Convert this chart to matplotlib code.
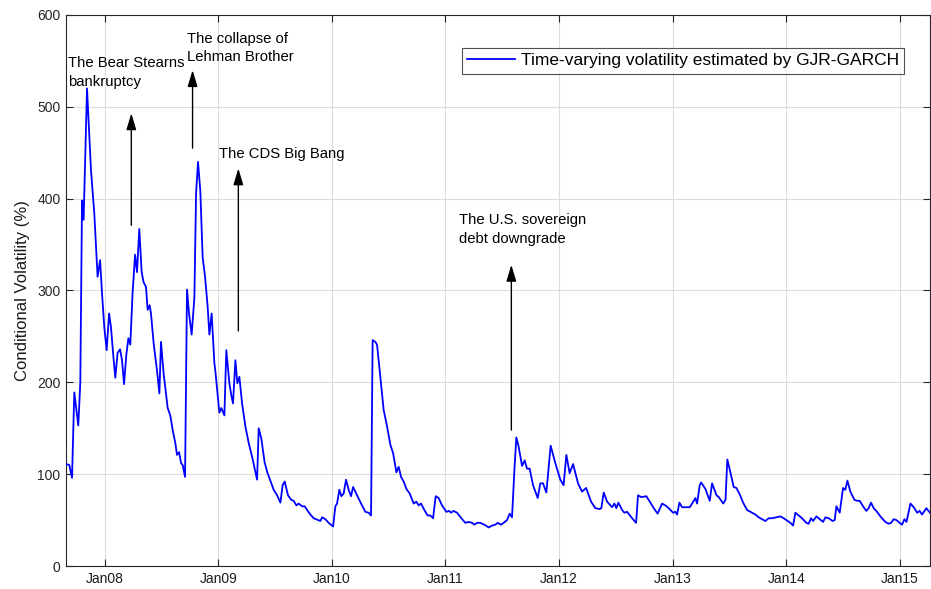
import matplotlib
matplotlib.use("Agg")
import matplotlib.pyplot as plt

plt.rcParams['font.family'] = ['Liberation Sans', 'DejaVu Sans']

# Time axis in decimal years, conditional volatility in percent
t_year = [
    2007.660, 2007.689, 2007.713, 2007.733, 2007.768, 2007.786, 2007.801, 2007.815,
    2007.845, 2007.880, 2007.909, 2007.938, 2007.960, 2007.977, 2007.997, 2008.018,
    2008.039, 2008.056, 2008.077, 2008.094, 2008.114, 2008.136, 2008.153, 2008.171,
    2008.191, 2008.209, 2008.226, 2008.246, 2008.268, 2008.285, 2008.305, 2008.326,
    2008.343, 2008.364, 2008.379, 2008.396, 2008.408, 2008.431, 2008.461, 2008.482,
    2008.496, 2008.519, 2008.555, 2008.578, 2008.599, 2008.622, 2008.637, 2008.655,
    2008.673, 2008.687, 2008.708, 2008.725, 2008.743, 2008.766, 2008.790, 2008.805,
    2008.822, 2008.842, 2008.863, 2008.884, 2008.907, 2008.922, 2008.942, 2008.966,
    2008.974, 2009.010, 2009.027, 2009.054, 2009.071, 2009.098, 2009.115, 2009.130,
    2009.151, 2009.168, 2009.186, 2009.210, 2009.239, 2009.268, 2009.298, 2009.342,
    2009.356, 2009.379, 2009.408, 2009.432, 2009.456, 2009.488, 2009.518, 2009.547,
    2009.567, 2009.585, 2009.614, 2009.643, 2009.664, 2009.688, 2009.708, 2009.738,
    2009.761, 2009.782, 2009.811, 2009.840, 2009.879, 2009.899, 2009.914, 2009.943,
    2009.972, 2010.011, 2010.031, 2010.046, 2010.066, 2010.084, 2010.104, 2010.125,
    2010.148, 2010.169, 2010.187, 2010.222, 2010.257, 2010.295, 2010.324, 2010.345,
    2010.359, 2010.383, 2010.398, 2010.427, 2010.456, 2010.486, 2010.515, 2010.539,
    2010.568, 2010.588, 2010.609, 2010.632, 2010.656, 2010.685, 2010.720, 2010.744,
    2010.764, 2010.785, 2010.814, 2010.843, 2010.867, 2010.891, 2010.914, 2010.940,
    2010.970, 2011.008, 2011.032, 2011.049, 2011.072, 2011.102, 2011.140, 2011.175,
    2011.204, 2011.234, 2011.254, 2011.278, 2011.307, 2011.342, 2011.380, 2011.410,
    2011.439, 2011.460, 2011.489, 2011.512, 2011.542, 2011.565, 2011.586, 2011.607,
    2011.624, 2011.644, 2011.674, 2011.697, 2011.718, 2011.741, 2011.771, 2011.812,
    2011.835, 2011.859, 2011.888, 2011.926, 2011.967, 2012.011, 2012.040, 2012.064,
    2012.093, 2012.123, 2012.167, 2012.202, 2012.238, 2012.282, 2012.319, 2012.357,
    2012.372, 2012.393, 2012.423, 2012.467, 2012.487, 2012.504, 2012.522, 2012.555,
    2012.575, 2012.599, 2012.643, 2012.678, 2012.695, 2012.724, 2012.768, 2012.804,
    2012.833, 2012.868, 2012.907, 2012.936, 2012.965, 2013.004, 2013.024, 2013.039,
    2013.059, 2013.083, 2013.112, 2013.150, 2013.176, 2013.200, 2013.215, 2013.238,
    2013.250, 2013.288, 2013.326, 2013.347, 2013.386, 2013.406, 2013.445, 2013.465,
    2013.481, 2013.510, 2013.537, 2013.561, 2013.590, 2013.620, 2013.655, 2013.699,
    2013.728, 2013.757, 2013.787, 2013.816, 2013.845, 2013.875, 2013.913, 2013.948,
    2013.977, 2014.012, 2014.036, 2014.060, 2014.080, 2014.109, 2014.139, 2014.176,
    2014.197, 2014.218, 2014.236, 2014.265, 2014.294, 2014.324, 2014.344, 2014.373,
    2014.408, 2014.426, 2014.441, 2014.470, 2014.500, 2014.520, 2014.538, 2014.564,
    2014.600, 2014.623, 2014.646, 2014.681, 2014.705, 2014.725, 2014.746, 2014.769,
    2014.799, 2014.828, 2014.872, 2014.901, 2014.923, 2014.945, 2014.969, 2014.998,
    2015.019, 2015.040, 2015.058, 2015.093, 2015.122, 2015.152, 2015.174, 2015.195,
    2015.233, 2015.265,
]

volatility = [
    111, 110, 96, 189, 153, 200, 398, 377,
    520, 431, 384, 315, 333, 297, 260, 235,
    275, 260, 228, 205, 232, 236, 224, 198,
    230, 248, 241, 297, 339, 320, 367, 320,
    309, 304, 279, 284, 275, 243, 213, 188,
    244, 210, 172, 164, 148, 134, 121, 124,
    112, 110, 97, 301, 275, 252, 292, 406,
    440, 409, 336, 315, 282, 252, 275, 221,
    213, 167, 172, 164, 235, 199, 186, 177,
    224, 199, 206, 177, 152, 134, 119, 94,
    150, 139, 113, 102, 94, 83, 77, 69,
    88, 92, 77, 72, 71, 66, 68, 65,
    65, 61, 56, 52, 50, 49, 53, 51,
    47, 43, 65, 68, 83, 76, 79, 94,
    83, 76, 86, 77, 68, 59, 58, 55,
    246, 244, 241, 206, 170, 152, 132, 123,
    102, 108, 97, 92, 84, 79, 68, 70,
    66, 68, 61, 55, 55, 52, 76, 74,
    66, 59, 60, 58, 60, 58, 52, 47,
    48, 47, 45, 47, 47, 45, 42, 44,
    45, 47, 45, 47, 50, 57, 53, 105,
    140, 130, 109, 115, 106, 106, 88, 74,
    90, 90, 80, 131, 112, 94, 88, 121,
    101, 111, 90, 81, 85, 70, 63, 62,
    63, 80, 70, 64, 68, 63, 69, 61,
    58, 59, 52, 47, 77, 75, 76, 69,
    63, 57, 68, 66, 63, 58, 59, 56,
    69, 64, 64, 64, 69, 74, 68, 88,
    91, 84, 71, 90, 77, 75, 68, 72,
    116, 101, 86, 85, 78, 69, 61, 58,
    56, 53, 51, 49, 52, 52, 53, 54,
    52, 49, 47, 44, 58, 55, 52, 47,
    46, 52, 49, 54, 51, 48, 53, 52,
    49, 50, 65, 58, 85, 83, 93, 81,
    72, 71, 71, 64, 60, 63, 69, 63,
    59, 54, 48, 46, 47, 51, 50, 47,
    45, 51, 48, 68, 64, 58, 60, 56,
    63, 58,
]

tick_years = [2008, 2009, 2010, 2011, 2012, 2013, 2014, 2015]
tick_labels = ['Jan08', 'Jan09', 'Jan10', 'Jan11', 'Jan12', 'Jan13', 'Jan14', 'Jan15']
y_ticks = [0, 100, 200, 300, 400, 500, 600]

# Event annotations: label, text position, arrow start/end (year, value)
event_labels = ['The Bear Stearns\nbankruptcy',
                'The collapse of\nLehman Brother',
                'The CDS Big Bang',
                'The U.S. sovereign\ndebt downgrade']
event_text_x = [2007.681, 2008.729, 2009.003, 2011.122]
event_text_y = [555, 582, 456, 384]
event_arrow_x = [2008.235, 2008.774, 2009.177, 2011.580]
event_arrow_from = [371, 455, 256, 148]
event_arrow_to = [493, 540, 433, 328]

axis_color = '#262626'
grid_color = '#dcdcdc'

fig = plt.figure(figsize=(9.31, 5.89), dpi=100)
ax = fig.add_axes([66 / 931, 23 / 589, 864 / 931, 551 / 589])

ax.plot(t_year, volatility, color='#0000ff', lw=1.3,
        label='Time-varying volatility estimated by GJR-GARCH', zorder=3)

ax.set_xlim(t_year[0], t_year[-1])
ax.set_ylim(0, 600)
ax.set_xticks(tick_years)
ax.set_xticklabels(tick_labels)
ax.set_yticks(y_ticks)

ax.grid(True, color=grid_color, lw=0.8)
ax.set_axisbelow(True)
ax.tick_params(direction='in', length=5, width=0.8, colors=axis_color,
               labelsize=10, top=True, right=True, pad=4)
ax.tick_params(axis='x', labelcolor='#1a1a1a')
for sp in ax.spines.values():
    sp.set_color(axis_color)
    sp.set_linewidth(0.8)

ax.set_ylabel('Conditional Volatility (%)', fontsize=12, color='#1a1a1a', labelpad=5)

for label, tx, ty, ax_x, a0, a1 in zip(event_labels, event_text_x, event_text_y,
                                       event_arrow_x, event_arrow_from, event_arrow_to):
    ax.text(tx, ty, label, fontsize=10.7, va='top', ha='left', color='black',
            linespacing=1.4, zorder=4)
    ax.annotate('', xy=(ax_x, a1), xytext=(ax_x, a0),
                arrowprops=dict(arrowstyle='-|>,head_length=1.0,head_width=0.3',
                                color='black', lw=1.0, shrinkA=0, shrinkB=0),
                zorder=4)

leg = ax.legend(loc='upper right', bbox_to_anchor=((904 - 66) / 864, (566 - 48) / 551),
                borderaxespad=0, fontsize=12.5, handlelength=2.8, handletextpad=0.3,
                frameon=True, fancybox=False, borderpad=0.3)
leg.get_frame().set_edgecolor('#262626')
leg.get_frame().set_linewidth(0.8)

fig.savefig('out.png', dpi=100)
